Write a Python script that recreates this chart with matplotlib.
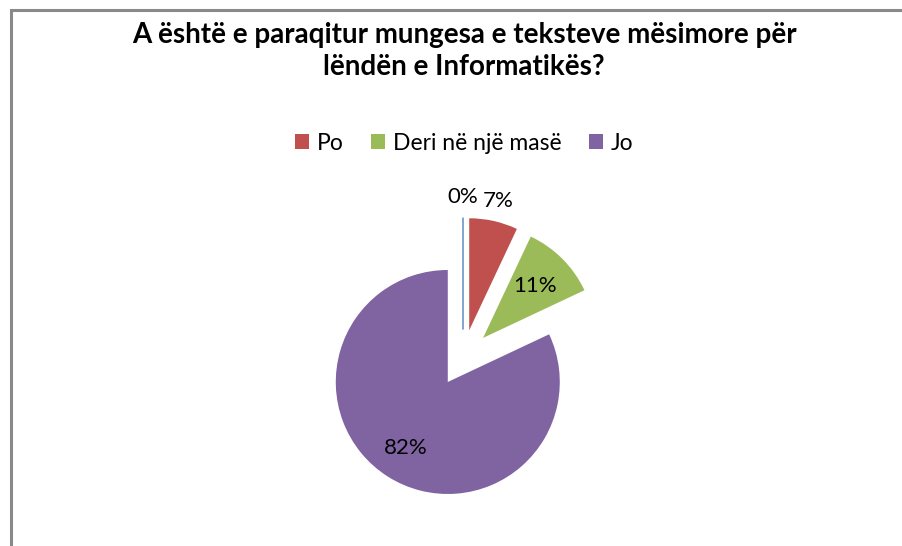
import numpy as np
import matplotlib
matplotlib.use('Agg')
import matplotlib.pyplot as plt
from matplotlib.patches import Rectangle, Patch

# Données du graphique
title = "A është e paraqitur mungesa e teksteve mësimore për\nlëndën e Informatikës?"
categories = ['', 'Po', 'Deri në një masë', 'Jo']
values = [0, 7, 11, 82]
colors = ['#4F81BD', '#C0504D', '#9BBB59', '#8064A2']
label_dist = [1.18, 1.18, 0.66, 0.70]

W, H = 903, 546
fig = plt.figure(figsize=(W / 100, H / 100), dpi=100)
ax = fig.add_axes([0, 0, 1, 1])

R = 112
cx, cy = 463, H - 358
# explode est en unités de données (pixels ici)
wedges, _ = ax.pie(values, colors=colors, startangle=90, counterclock=False,
                   explode=[28.4] * len(values), radius=R, center=(cx, cy),
                   wedgeprops=dict(linewidth=0))
# la tranche à 0 % n'est qu'un trait bleu
wedges[0].set_edgecolor(colors[0])
wedges[0].set_linewidth(1.0)

ax.set_xlim(0, W)
ax.set_ylim(0, H)
ax.set_aspect('equal')
ax.axis('off')

total = sum(values)
for w, v, d in zip(wedges, values, label_dist):
    mid = np.radians((w.theta1 + w.theta2) / 2)
    x = w.center[0] + d * R * np.cos(mid)
    y = w.center[1] + d * R * np.sin(mid)
    ax.text(x, y, f"{v / total * 100:.0f}%", ha='center', va='center',
            fontsize=16, family='Lato', color='black')

fig.text(464 / W, 1 - 51 / H, title, ha='center', va='center', fontsize=20,
         fontweight='bold', family='Lato', linespacing=1.25)

handles = [Patch(facecolor=c, edgecolor='none') for c in colors[1:]]
fig.legend(handles, categories[1:], loc='center', bbox_to_anchor=(464 / W, 1 - 143 / H),
           ncol=3, frameon=False, prop={'family': 'Lato', 'size': 16.5},
           handlelength=0.6, handleheight=0.6, handletextpad=0.35, columnspacing=1.2)

# cadre gris du graphique
fig.patches.append(Rectangle((11.5 / W, -0.1), 1.2, 1.1 - 10.5 / H,
                             transform=fig.transFigure, fill=False,
                             edgecolor='#898989', linewidth=2.2))

fig.savefig('out.png', dpi=100, facecolor='white')
